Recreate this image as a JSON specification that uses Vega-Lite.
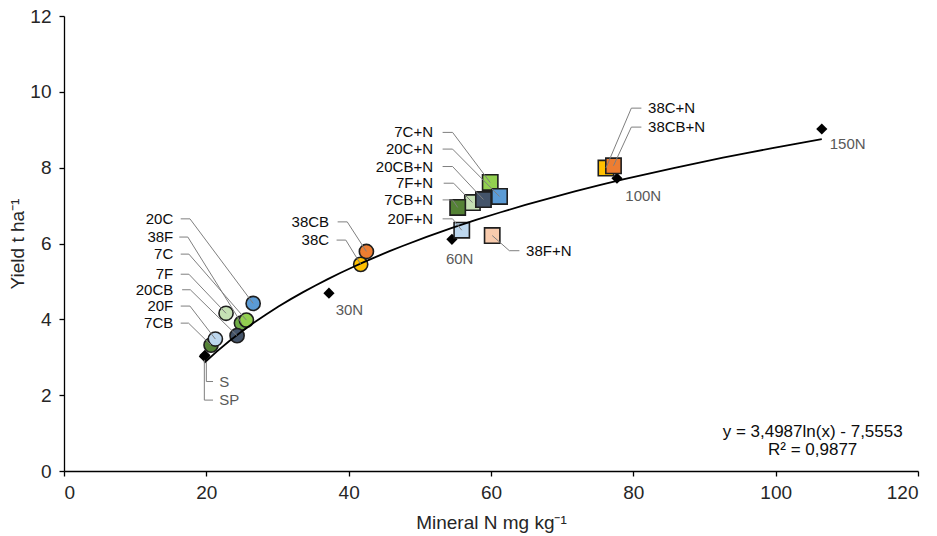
{
  "$schema": "https://vega.github.io/schema/vega-lite/v6.json",
  "width": 854,
  "height": 455,
  "autosize": {"type": "none"},
  "padding": {"left": 64, "top": 16, "right": 19, "bottom": 65},
  "background": "white",
  "config": {
    "view": {"stroke": null},
    "font": "Liberation Sans",
    "text": {"font": "Liberation Sans"}
  },
  "datasets": {
    "ref": [
      {"name": "S", "x": 19.72, "y": 3.02},
      {"name": "SP", "x": 19.8, "y": 3.05},
      {"name": "30N", "x": 37.23, "y": 4.69},
      {"name": "60N", "x": 54.51, "y": 6.11},
      {"name": "100N", "x": 77.7, "y": 7.72},
      {"name": "150N", "x": 106.48, "y": 9.02}
    ],
    "amend": [
      {"name": "7CB", "x": 20.66, "y": 3.32},
      {"name": "20F", "x": 21.27, "y": 3.48},
      {"name": "7F", "x": 22.77, "y": 4.16},
      {"name": "38F", "x": 24.93, "y": 3.9},
      {"name": "7C", "x": 25.63, "y": 3.98},
      {"name": "20CB", "x": 24.32, "y": 3.57},
      {"name": "20C", "x": 26.58, "y": 4.42},
      {"name": "38CB", "x": 42.49, "y": 5.79},
      {"name": "38C", "x": 41.69, "y": 5.45}
    ],
    "amendN": [
      {"name": "7C+N", "x": 59.89, "y": 7.61},
      {"name": "20C+N", "x": 61.2, "y": 7.24},
      {"name": "7F+N", "x": 57.39, "y": 7.08},
      {"name": "20CB+N", "x": 58.94, "y": 7.16},
      {"name": "7CB+N", "x": 55.32, "y": 6.95},
      {"name": "20F+N", "x": 55.89, "y": 6.35},
      {"name": "38F+N", "x": 60.17, "y": 6.21},
      {"name": "38C+N", "x": 76.15, "y": 7.99},
      {"name": "38CB+N", "x": 77.21, "y": 8.05}
    ],
    "leaders": [
      {"name": "20C", "i": 1, "x": 16.4, "y": 6.65}, {"name": "20C", "i": 2, "x": 17.7, "y": 6.65}, {"name": "20C", "i": 3, "x": 26.58, "y": 4.42},
      {"name": "38F", "i": 1, "x": 16.2, "y": 6.17}, {"name": "38F", "i": 2, "x": 17.4, "y": 6.17}, {"name": "38F", "i": 3, "x": 24.93, "y": 3.9},
      {"name": "7C", "i": 1, "x": 16.4, "y": 5.72}, {"name": "7C", "i": 2, "x": 17.55, "y": 5.72}, {"name": "7C", "i": 3, "x": 25.63, "y": 3.98},
      {"name": "7F", "i": 1, "x": 16.4, "y": 5.19}, {"name": "7F", "i": 2, "x": 17.55, "y": 5.19}, {"name": "7F", "i": 3, "x": 22.77, "y": 4.16},
      {"name": "20CB", "i": 1, "x": 16.6, "y": 4.78}, {"name": "20CB", "i": 2, "x": 17.75, "y": 4.78}, {"name": "20CB", "i": 3, "x": 24.32, "y": 3.57},
      {"name": "20F", "i": 1, "x": 16.4, "y": 4.35}, {"name": "20F", "i": 2, "x": 17.7, "y": 4.35}, {"name": "20F", "i": 3, "x": 21.27, "y": 3.48},
      {"name": "7CB", "i": 1, "x": 16.4, "y": 3.9}, {"name": "7CB", "i": 2, "x": 17.5, "y": 3.9}, {"name": "7CB", "i": 3, "x": 20.66, "y": 3.32},
      {"name": "38CB", "i": 1, "x": 38.45, "y": 6.57}, {"name": "38CB", "i": 2, "x": 39.8, "y": 6.57}, {"name": "38CB", "i": 3, "x": 42.49, "y": 5.79},
      {"name": "38C", "i": 1, "x": 38.3, "y": 6.09}, {"name": "38C", "i": 2, "x": 39.6, "y": 6.09}, {"name": "38C", "i": 3, "x": 41.69, "y": 5.45},
      {"name": "7C+N", "i": 1, "x": 53.2, "y": 8.93}, {"name": "7C+N", "i": 2, "x": 54.6, "y": 8.93}, {"name": "7C+N", "i": 3, "x": 59.89, "y": 7.61},
      {"name": "20C+N", "i": 1, "x": 53.2, "y": 8.49}, {"name": "20C+N", "i": 2, "x": 54.6, "y": 8.49}, {"name": "20C+N", "i": 3, "x": 61.2, "y": 7.24},
      {"name": "20CB+N", "i": 1, "x": 53.2, "y": 8.03}, {"name": "20CB+N", "i": 2, "x": 54.6, "y": 8.03}, {"name": "20CB+N", "i": 3, "x": 58.94, "y": 7.16},
      {"name": "7F+N", "i": 1, "x": 53.35, "y": 7.59}, {"name": "7F+N", "i": 2, "x": 54.75, "y": 7.59}, {"name": "7F+N", "i": 3, "x": 57.39, "y": 7.08},
      {"name": "7CB+N", "i": 1, "x": 53.2, "y": 7.15}, {"name": "7CB+N", "i": 2, "x": 54.6, "y": 7.15}, {"name": "7CB+N", "i": 3, "x": 55.32, "y": 6.95},
      {"name": "20F+N", "i": 1, "x": 53.2, "y": 6.65}, {"name": "20F+N", "i": 2, "x": 54.6, "y": 6.65}, {"name": "20F+N", "i": 3, "x": 55.89, "y": 6.35},
      {"name": "38F+N", "i": 1, "x": 60.17, "y": 6.21}, {"name": "38F+N", "i": 2, "x": 62.58, "y": 5.81}, {"name": "38F+N", "i": 3, "x": 63.99, "y": 5.81},
      {"name": "38C+N", "i": 1, "x": 81.13, "y": 9.57}, {"name": "38C+N", "i": 2, "x": 79.72, "y": 9.57}, {"name": "38C+N", "i": 3, "x": 76.15, "y": 7.99},
      {"name": "38CB+N", "i": 1, "x": 81.13, "y": 9.07}, {"name": "38CB+N", "i": 2, "x": 79.72, "y": 9.07}, {"name": "38CB+N", "i": 3, "x": 77.21, "y": 8.05},
      {"name": "S", "i": 1, "x": 20.0, "y": 2.88}, {"name": "S", "i": 2, "x": 20.0, "y": 2.36}, {"name": "S", "i": 3, "x": 20.94, "y": 2.36},
      {"name": "SP", "i": 1, "x": 19.72, "y": 2.93}, {"name": "SP", "i": 2, "x": 19.72, "y": 1.87}, {"name": "SP", "i": 3, "x": 20.94, "y": 1.87}
    ],
    "labelsRight": [
      {"name": "20C", "x": 15.35, "y": 6.65},
      {"name": "38F", "x": 15.35, "y": 6.17},
      {"name": "7C", "x": 15.35, "y": 5.72},
      {"name": "7F", "x": 15.35, "y": 5.19},
      {"name": "20CB", "x": 15.35, "y": 4.78},
      {"name": "20F", "x": 15.35, "y": 4.35},
      {"name": "7CB", "x": 15.35, "y": 3.9},
      {"name": "38CB", "x": 37.25, "y": 6.57},
      {"name": "38C", "x": 37.25, "y": 6.09},
      {"name": "7C+N", "x": 51.85, "y": 8.93},
      {"name": "20C+N", "x": 51.85, "y": 8.49},
      {"name": "20CB+N", "x": 51.85, "y": 8.03},
      {"name": "7F+N", "x": 51.85, "y": 7.59},
      {"name": "7CB+N", "x": 51.85, "y": 7.15},
      {"name": "20F+N", "x": 51.85, "y": 6.65}
    ],
    "labelsLeft": [
      {"name": "38F+N", "x": 64.93, "y": 5.81},
      {"name": "38C+N", "x": 82.07, "y": 9.57},
      {"name": "38CB+N", "x": 82.07, "y": 9.07}
    ],
    "grayLabels": [
      {"name": "S", "x": 21.83, "y": 2.36},
      {"name": "SP", "x": 21.83, "y": 1.87},
      {"name": "30N", "x": 38.17, "y": 4.25},
      {"name": "60N", "x": 53.66, "y": 5.59},
      {"name": "100N", "x": 78.87, "y": 7.26},
      {"name": "150N", "x": 107.6, "y": 8.63}
    ],
    "equation": [
      {"name": "y = 3,4987ln(x) - 7,5553", "x": 105.2, "y": 1.03},
      {"name": "R² = 0,9877", "x": 105.2, "y": 0.55}
    ]
  },
  "encoding": {
    "x": {
      "field": "x", "type": "quantitative",
      "scale": {"domain": [0, 120], "nice": false, "zero": false},
      "axis": {
        "values": [0, 20, 40, 60, 80, 100, 120],
        "grid": false, "domainColor": "#000000", "domainWidth": 1.3, "tickColor": "#000000", "tickSize": 5, "tickWidth": 1.3,
        "labelFont": "Liberation Sans", "labelFontSize": 19, "labelColor": "#262626", "labelPadding": 7,
        "titleFont": "Liberation Sans", "titleFontSize": 19, "titleFontWeight": "normal", "titleColor": "#262626",
        "titleBaseline": "middle", "titleY": 51
      },
      "title": "Mineral N mg kg⁻¹"
    },
    "y": {
      "field": "y", "type": "quantitative",
      "scale": {"domain": [0, 12], "nice": false, "zero": false},
      "axis": {
        "values": [0, 2, 4, 6, 8, 10, 12],
        "grid": false, "domainColor": "#000000", "domainWidth": 1.3, "tickColor": "#000000", "tickSize": 5, "tickWidth": 1.3,
        "labelFont": "Liberation Sans", "labelFontSize": 19, "labelColor": "#262626", "labelPadding": 8,
        "titleFont": "Liberation Sans", "titleFontSize": 19, "titleFontWeight": "normal", "titleColor": "#262626",
        "titleBaseline": "middle", "titleX": -47
      },
      "title": "Yield t ha⁻¹"
    }
  },
  "layer": [
    {
      "data": {"name": "ref"},
      "mark": {"type": "point", "shape": "diamond", "filled": true, "color": "#000000", "size": 125, "opacity": 1}
    },
    {
      "data": {"name": "amend"},
      "mark": {"type": "point", "shape": "circle", "filled": true, "size": 200, "stroke": "#1e1e1e", "strokeWidth": 1.6, "opacity": 1},
      "encoding": {
        "color": {"field": "name", "type": "nominal", "legend": null,
          "scale": {
            "domain": ["7C", "7F", "7CB", "20C", "20F", "20CB", "38C", "38F", "38CB", "7C+N", "7F+N", "7CB+N", "20C+N", "20F+N", "20CB+N", "38C+N", "38F+N", "38CB+N"],
            "range": ["#92D050", "#C5E0B4", "#548235", "#5B9BD5", "#BDD7EE", "#44546A", "#FFC000", "#70AD47", "#ED7D31", "#92D050", "#C5E0B4", "#548235", "#5B9BD5", "#BDD7EE", "#44546A", "#FFC000", "#F8CBAD", "#ED7D31"]
          }
        },
        "stroke": {"value": "#1e1e1e"}
      }
    },
    {
      "data": {"name": "amendN"},
      "mark": {"type": "point", "shape": "square", "filled": true, "size": 235, "stroke": "#1e1e1e", "strokeWidth": 1.6, "opacity": 1},
      "encoding": {
        "color": {"field": "name", "type": "nominal", "legend": null},
        "stroke": {"value": "#1e1e1e"}
      }
    },
    {
      "data": {"name": "ref"},
      "transform": [{"regression": "y", "on": "x", "method": "log"}],
      "mark": {"type": "line", "color": "#000000", "strokeWidth": 1.8},
      "encoding": {}
    },
    {
      "data": {"name": "leaders"},
      "mark": {"type": "line", "color": "#7f7f7f", "strokeWidth": 1},
      "encoding": {
        "detail": {"field": "name", "type": "nominal"},
        "order": {"field": "i", "type": "quantitative"}
      }
    },
    {
      "data": {"name": "labelsRight"},
      "mark": {"type": "text", "align": "right", "baseline": "middle", "fontSize": 15, "color": "#0d0d0d"},
      "encoding": {"text": {"field": "name", "type": "nominal"}}
    },
    {
      "data": {"name": "labelsLeft"},
      "mark": {"type": "text", "align": "left", "baseline": "middle", "fontSize": 15, "color": "#0d0d0d"},
      "encoding": {"text": {"field": "name", "type": "nominal"}}
    },
    {
      "data": {"name": "grayLabels"},
      "mark": {"type": "text", "align": "left", "baseline": "middle", "fontSize": 15, "color": "#595959"},
      "encoding": {"text": {"field": "name", "type": "nominal"}}
    },
    {
      "data": {"name": "equation"},
      "mark": {"type": "text", "align": "center", "baseline": "middle", "fontSize": 17, "color": "#0d0d0d"},
      "encoding": {"text": {"field": "name", "type": "nominal"}}
    }
  ]
}
